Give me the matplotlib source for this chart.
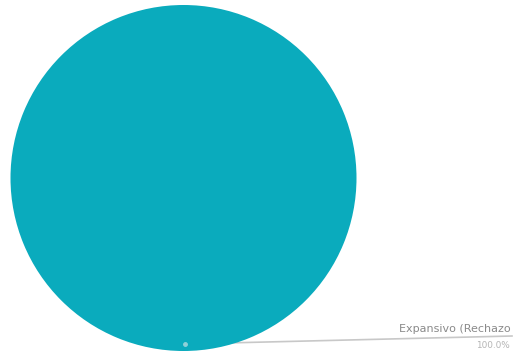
import matplotlib
matplotlib.use("Agg")
import matplotlib.pyplot as plt
import numpy as np

categories = ["Expansivo (Rechazo"]
values = [100.0]
colors = ["#0aabbd"]

fig = plt.figure(figsize=(5.14, 3.57), dpi=100)
ax = fig.add_axes([0, 0, 1, 1])
ax.set_xlim(0, 514)
ax.set_ylim(357, 0)
ax.set_aspect("equal")
ax.axis("off")

cx, cy, r = 183.5, 178, 173
total = sum(values)
wedges, _ = ax.pie(values, colors=colors, center=(cx, cy), radius=r,
                   startangle=90, counterclock=False,
                   wedgeprops=dict(linewidth=0))
ax.set_xlim(0, 514)
ax.set_ylim(357, 0)

# label leader line (drawn under the pie)
for v, name in zip(values, categories):
    ax.plot([cx + 1, 512], [344, 336], color="#c8c8c8", lw=1.2, zorder=0)
    ax.plot([cx + 1], [344], marker="o", ms=2.5, color="#8fd0d8", zorder=5)
    ax.text(511, 331.5, name, ha="right", va="baseline", fontsize=8.0,
            color="#8a8a8a")
    ax.text(510, 347.5, f"{v / total * 100:.1f}%", ha="right", va="baseline",
            fontsize=6.4, color="#b5b5b5")

fig.savefig("out.png", dpi=100)
